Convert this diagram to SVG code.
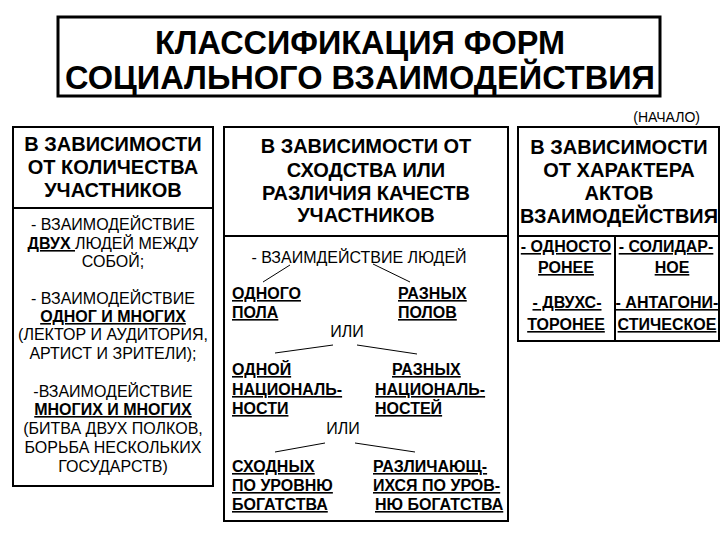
<svg xmlns="http://www.w3.org/2000/svg" width="720" height="540" viewBox="0 0 720 540">
<style>
  .box { fill: #ffffff; stroke: #000000; stroke-width: 2; }
  .sep { stroke: #000000; stroke-width: 2; fill: none; }
  .ln { stroke: #000000; stroke-width: 1; fill: none; }
  text { font-family: "Liberation Sans", Arial, sans-serif; fill: #000000; }
  .title { font-size: 33px; font-weight: bold; text-anchor: middle; }
  .hd { font-size: 20px; font-weight: bold; text-anchor: middle; }
  .rg { font-size: 16px; text-anchor: middle; }
  .bu { font-size: 16px; font-weight: bold; text-decoration: underline; }
  .c { text-anchor: middle; }
  .sm { font-size: 14px; text-anchor: end; }
</style>
<rect width="720" height="540" fill="#ffffff"/>

<g id="title">
  <rect x="58" y="17" width="602" height="79" fill="#ffffff" stroke="#000" stroke-width="3"/>
  <text class="title" x="360" y="54" textLength="410" lengthAdjust="spacingAndGlyphs">КЛАССИФИКАЦИЯ ФОРМ</text>
  <text class="title" x="360" y="89" textLength="590" lengthAdjust="spacingAndGlyphs">СОЦИАЛЬНОГО ВЗАИМОДЕЙСТВИЯ</text>
</g>

<g id="note">
  <text class="sm" x="700" y="122">(НАЧАЛО)</text>
</g>

<g id="by-count">
  <rect class="box" x="13" y="127" width="200" height="359"/>
  <line class="sep" x1="13" y1="208" x2="213" y2="208"/>
  <text class="hd" x="113" y="151">В ЗАВИСИМОСТИ</text>
  <text class="hd" x="113" y="174">ОТ КОЛИЧЕСТВА</text>
  <text class="hd" x="113" y="197">УЧАСТНИКОВ</text>
  <text class="rg" x="113" y="230">- ВЗАИМОДЕЙСТВИЕ</text>
  <text class="rg" x="113" y="249"><tspan font-weight="bold" text-decoration="underline">ДВУХ </tspan>ЛЮДЕЙ МЕЖДУ</text>
  <text class="rg" x="113" y="267">СОБОЙ;</text>
  <text class="rg" x="113" y="304">- ВЗАИМОДЕЙСТВИЕ</text>
  <text class="bu c" x="113" y="322">ОДНОГ И МНОГИХ</text>
  <text class="rg" x="113" y="340">(ЛЕКТОР И АУДИТОРИЯ,</text>
  <text class="rg" x="113" y="359">АРТИСТ И ЗРИТЕЛИ);</text>
  <text class="rg" x="113" y="397">-ВЗАИМОДЕЙСТВИЕ</text>
  <text class="bu c" x="113" y="415">МНОГИХ И МНОГИХ</text>
  <text class="rg" x="113" y="434">(БИТВА ДВУХ ПОЛКОВ,</text>
  <text class="rg" x="113" y="453">БОРЬБА НЕСКОЛЬКИХ</text>
  <text class="rg" x="113" y="472">ГОСУДАРСТВ)</text>
</g>

<g id="by-similarity">
  <rect class="box" x="224" y="127" width="284" height="394"/>
  <line class="sep" x1="224" y1="236" x2="508" y2="236"/>
  <text class="hd" x="366" y="153">В ЗАВИСИМОСТИ ОТ</text>
  <text class="hd" x="366" y="177">СХОДСТВА ИЛИ</text>
  <text class="hd" x="366" y="200">РАЗЛИЧИЯ КАЧЕСТВ</text>
  <text class="hd" x="366" y="222">УЧАСТНИКОВ</text>
  <text class="rg" x="359" y="263">- ВЗАИМДЕЙСТВИЕ ЛЮДЕЙ</text>
  <text class="bu" x="232" y="299">ОДНОГО</text>
  <text class="bu" x="232" y="318">ПОЛА</text>
  <text class="bu" x="398" y="299">РАЗНЫХ</text>
  <text class="bu" x="398" y="318">ПОЛОВ</text>
  <text class="rg" x="347" y="337">ИЛИ</text>
  <text class="bu" x="232" y="375">ОДНОЙ</text>
  <text class="bu" x="232" y="395">НАЦИОНАЛЬ-</text>
  <text class="bu" x="232" y="414">НОСТИ</text>
  <text class="bu" x="392" y="375">РАЗНЫХ</text>
  <text class="bu" x="375" y="395">НАЦИОНАЛЬ-</text>
  <text class="bu" x="375" y="414">НОСТЕЙ</text>
  <text class="rg" x="343" y="434">ИЛИ</text>
  <text class="bu" x="232" y="472">СХОДНЫХ</text>
  <text class="bu" x="232" y="491">ПО УРОВНЮ</text>
  <text class="bu" x="232" y="510">БОГАТСТВА</text>
  <text class="bu" x="373" y="472">РАЗЛИЧАЮЩ-</text>
  <text class="bu" x="373" y="491">ИХСЯ ПО УРОВ-</text>
  <text class="bu" x="375" y="510">НЮ БОГАТСТВА</text>
</g>

<g id="by-character">
  <rect class="box" x="518" y="127" width="201" height="214"/>
  <line class="sep" x1="518" y1="236" x2="719" y2="236"/>
  <line class="sep" x1="615" y1="236" x2="615" y2="341"/>
  <text class="hd" x="619" y="154">В ЗАВИСИМОСТИ</text>
  <text class="hd" x="619" y="177">ОТ ХАРАКТЕРА</text>
  <text class="hd" x="619" y="200">АКТОВ</text>
  <text class="hd" x="619" y="223" textLength="198" lengthAdjust="spacingAndGlyphs">ВЗАИМОДЕЙСТВИЯ</text>
  <text class="bu c" x="566" y="252">- ОДНОСТО</text>
  <text class="bu c" x="566" y="273">РОНЕЕ</text>
  <text class="bu c" x="666" y="252">- СОЛИДАР-</text>
  <text class="bu c" x="672" y="273">НОЕ</text>
  <text class="bu c" x="567" y="308">- ДВУХС-</text>
  <text class="bu c" x="566" y="330">ТОРОНЕЕ</text>
  <text class="bu c" x="667" y="308">- АНТАГОНИ-</text>
  <text class="bu c" x="667" y="330">СТИЧЕСКОЕ</text>
</g>

<g id="connectors">
  <line class="ln" x1="290" y1="265" x2="263" y2="282"/>
  <line class="ln" x1="373" y1="264" x2="410" y2="282"/>
  <line class="ln" x1="333" y1="345" x2="275" y2="353"/>
  <line class="ln" x1="357" y1="345" x2="417" y2="354"/>
  <line class="ln" x1="325" y1="443" x2="275" y2="452"/>
  <line class="ln" x1="355" y1="443" x2="415" y2="452"/>
</g>
</svg>
